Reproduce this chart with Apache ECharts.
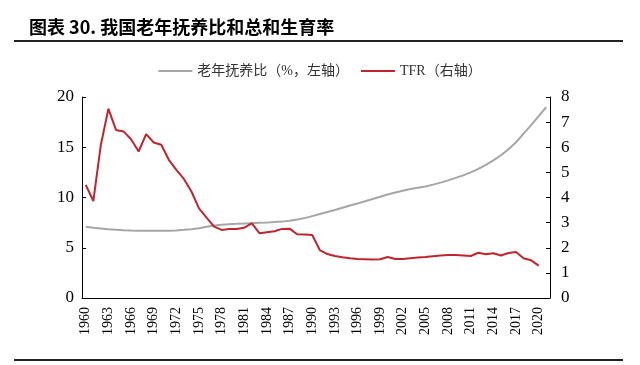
<!DOCTYPE html>
<html><head><meta charset="utf-8">
<script src="https://cdn.jsdelivr.net/npm/echarts@6/dist/echarts.min.js"></script>
<style>html,body{margin:0;padding:0;background:#fff}#c{width:640px;height:365px}</style>
</head><body><div id="c"></div>
<script>
var years = [];
for (var y = 1960; y <= 2021; y++) years.push(String(y));
var dependencyRatio = [7.1,7.0,6.92,6.85,6.8,6.75,6.72,6.7,6.68,6.68,6.68,6.7,6.72,6.78,6.85,6.95,7.1,7.22,7.3,7.35,7.38,7.42,7.45,7.48,7.5,7.55,7.6,7.68,7.8,7.95,8.15,8.35,8.55,8.75,8.98,9.2,9.4,9.62,9.85,10.08,10.3,10.5,10.68,10.84,10.98,11.1,11.28,11.48,11.7,11.95,12.2,12.5,12.85,13.25,13.7,14.2,14.8,15.5,16.35,17.2,18.1,19.0];
var tfr = [4.50,3.86,6.10,7.53,6.69,6.63,6.32,5.83,6.52,6.19,6.10,5.50,5.10,4.74,4.24,3.57,3.20,2.84,2.71,2.75,2.75,2.80,2.97,2.58,2.62,2.66,2.75,2.76,2.54,2.53,2.51,1.91,1.75,1.67,1.62,1.58,1.55,1.54,1.53,1.54,1.63,1.55,1.55,1.58,1.61,1.63,1.66,1.69,1.71,1.71,1.69,1.67,1.80,1.74,1.78,1.69,1.79,1.83,1.58,1.50,1.29];
var leftTicks = [0,5,10,15,20];
var rightTicks = [0,1,2,3,4,5,6,7,8];
var seriesNames = ['老年抚养比（%，左轴）','TFR（右轴）'];
var titleText = '图表 30. 我国老年抚养比和总和生育率';

var chart = echarts.init(document.getElementById('c'), null, {renderer:'canvas'});
var serif = '"Liberation Serif","Noto Sans CJK SC",serif';
chart.setOption({
  animation:false,
  backgroundColor:'#fff',
  title:{text:titleText,left:24,top:13,textStyle:{fontSize:18,fontWeight:'bold',color:'#000',fontFamily:'"Noto Sans CJK SC",sans-serif'}},
  graphic:[
    {type:'line',shape:{x1:14,y1:41,x2:623,y2:41},style:{stroke:'#222',lineWidth:2}},
    {type:'line',shape:{x1:14,y1:360,x2:623,y2:360},style:{stroke:'#222',lineWidth:2}}
  ],
  legend:{
    top:59,left:'center',itemGap:12,itemWidth:34,itemHeight:2,
    textStyle:{fontSize:14,color:'#333',fontFamily:serif},
    data:[{name:seriesNames[0],icon:'rect'},{name:seriesNames[1],icon:'rect'}]
  },
  grid:{left:82,right:90,top:97,bottom:67},
  xAxis:{
    type:'category',data:years,boundaryGap:true,
    axisLine:{lineStyle:{color:'#000',width:1}},
    axisTick:{show:false},
    axisLabel:{interval:2,rotate:90,fontSize:14,color:'#000',fontFamily:serif,margin:9}
  },
  yAxis:[
    {type:'value',min:leftTicks[0],max:leftTicks[leftTicks.length-1],interval:5,position:'left',
     splitLine:{show:false},
     axisLine:{show:true,lineStyle:{color:'#000',width:1}},
     axisTick:{show:true,inside:true,length:4,lineStyle:{color:'#000'}},
     axisLabel:{fontSize:17,color:'#000',fontFamily:serif,margin:8}},
    {type:'value',min:rightTicks[0],max:rightTicks[rightTicks.length-1],interval:1,position:'right',
     splitLine:{show:false},
     axisLine:{show:true,lineStyle:{color:'#000',width:1}},
     axisTick:{show:true,inside:true,length:4,lineStyle:{color:'#000'}},
     axisLabel:{fontSize:17,color:'#000',fontFamily:serif,margin:11}}
  ],
  series:[
    {name:seriesNames[0],type:'line',yAxisIndex:0,data:dependencyRatio,showSymbol:false,smooth:false,
     lineStyle:{color:'#A6A6A6',width:2},itemStyle:{color:'#A6A6A6'}},
    {name:seriesNames[1],type:'line',yAxisIndex:1,data:tfr,showSymbol:false,
     lineStyle:{color:'#C0252F',width:2},itemStyle:{color:'#C0252F'}}
  ]
});
</script></body></html>
